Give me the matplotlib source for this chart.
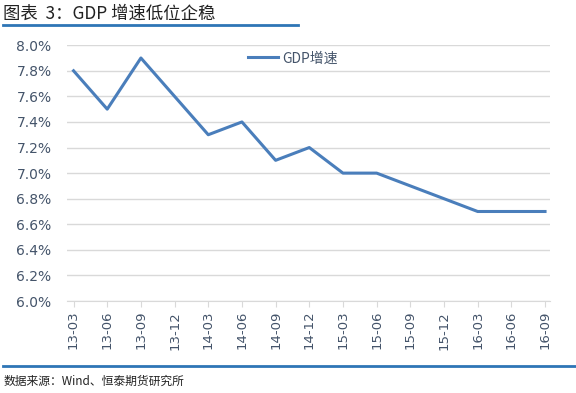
import matplotlib.pyplot as plt
import matplotlib.lines as mlines

plt.rcParams['font.family'] = ['Noto Sans CJK SC', 'DejaVu Sans']

# 数据
quarters = ['13-03', '13-06', '13-09', '13-12', '14-03', '14-06', '14-09', '14-12',
            '15-03', '15-06', '15-09', '15-12', '16-03', '16-06', '16-09']
gdp_growth = [7.8, 7.5, 7.9, 7.6, 7.3, 7.4, 7.1, 7.2, 7.0, 7.0, 6.9, 6.8, 6.7, 6.7, 6.7]
y_ticks = [6.0, 6.2, 6.4, 6.6, 6.8, 7.0, 7.2, 7.4, 7.6, 7.8, 8.0]

line_color = '#4A7EBB'
text_color = '#44546A'
bar_color = '#2E75B6'

fig = plt.figure(figsize=(5.76, 3.93), dpi=100)
ax = fig.add_axes([0.116, 0.234, 0.839, 0.651])

x = range(len(quarters))
ax.plot(x, gdp_growth, color=line_color, linewidth=2.2, label='GDP增速')

ax.set_ylim(6.0, 8.0)
ax.set_yticks(y_ticks)
ax.set_yticklabels([f'{v:.1f}%' for v in y_ticks], color=text_color, fontsize=10,
                   family='DejaVu Sans')
ax.set_xlim(-0.2, 14.15)
ax.set_xticks(list(x))
ax.set_xticklabels(quarters, rotation=90, color=text_color, fontsize=9.5,
                   family='DejaVu Sans')

ax.grid(axis='y', color='#D9D9D9', linewidth=1)
ax.set_axisbelow(True)
for s in ['top', 'right', 'left']:
    ax.spines[s].set_visible(False)
ax.spines['bottom'].set_color('#D9D9D9')
ax.tick_params(axis='y', length=0, pad=11)
ax.tick_params(axis='x', length=4, color='#D9D9D9', pad=3)

leg = ax.legend(loc='upper center', bbox_to_anchor=(0.468, 1.025), frameon=False,
                fontsize=10, handlelength=2.2, handletextpad=0.3)
for t in leg.get_texts():
    t.set_color(text_color)

# 标题和来源
fig.text(0.005, 0.965, '图表  3：GDP 增速低位企稳', fontsize=12.5,
         va='center', ha='left', color='#222222')
fig.add_artist(mlines.Line2D([0.005, 0.518], [0.936, 0.936], color=bar_color,
                             linewidth=2, transform=fig.transFigure))
fig.add_artist(mlines.Line2D([0.005, 1.0], [0.069, 0.069], color=bar_color,
                             linewidth=2, transform=fig.transFigure))
fig.text(0.006, 0.03, '数据来源：Wind、恒泰期货研究所', fontsize=8.5,
         va='center', ha='left', color='#222222')

plt.savefig('out.png', dpi=100)
